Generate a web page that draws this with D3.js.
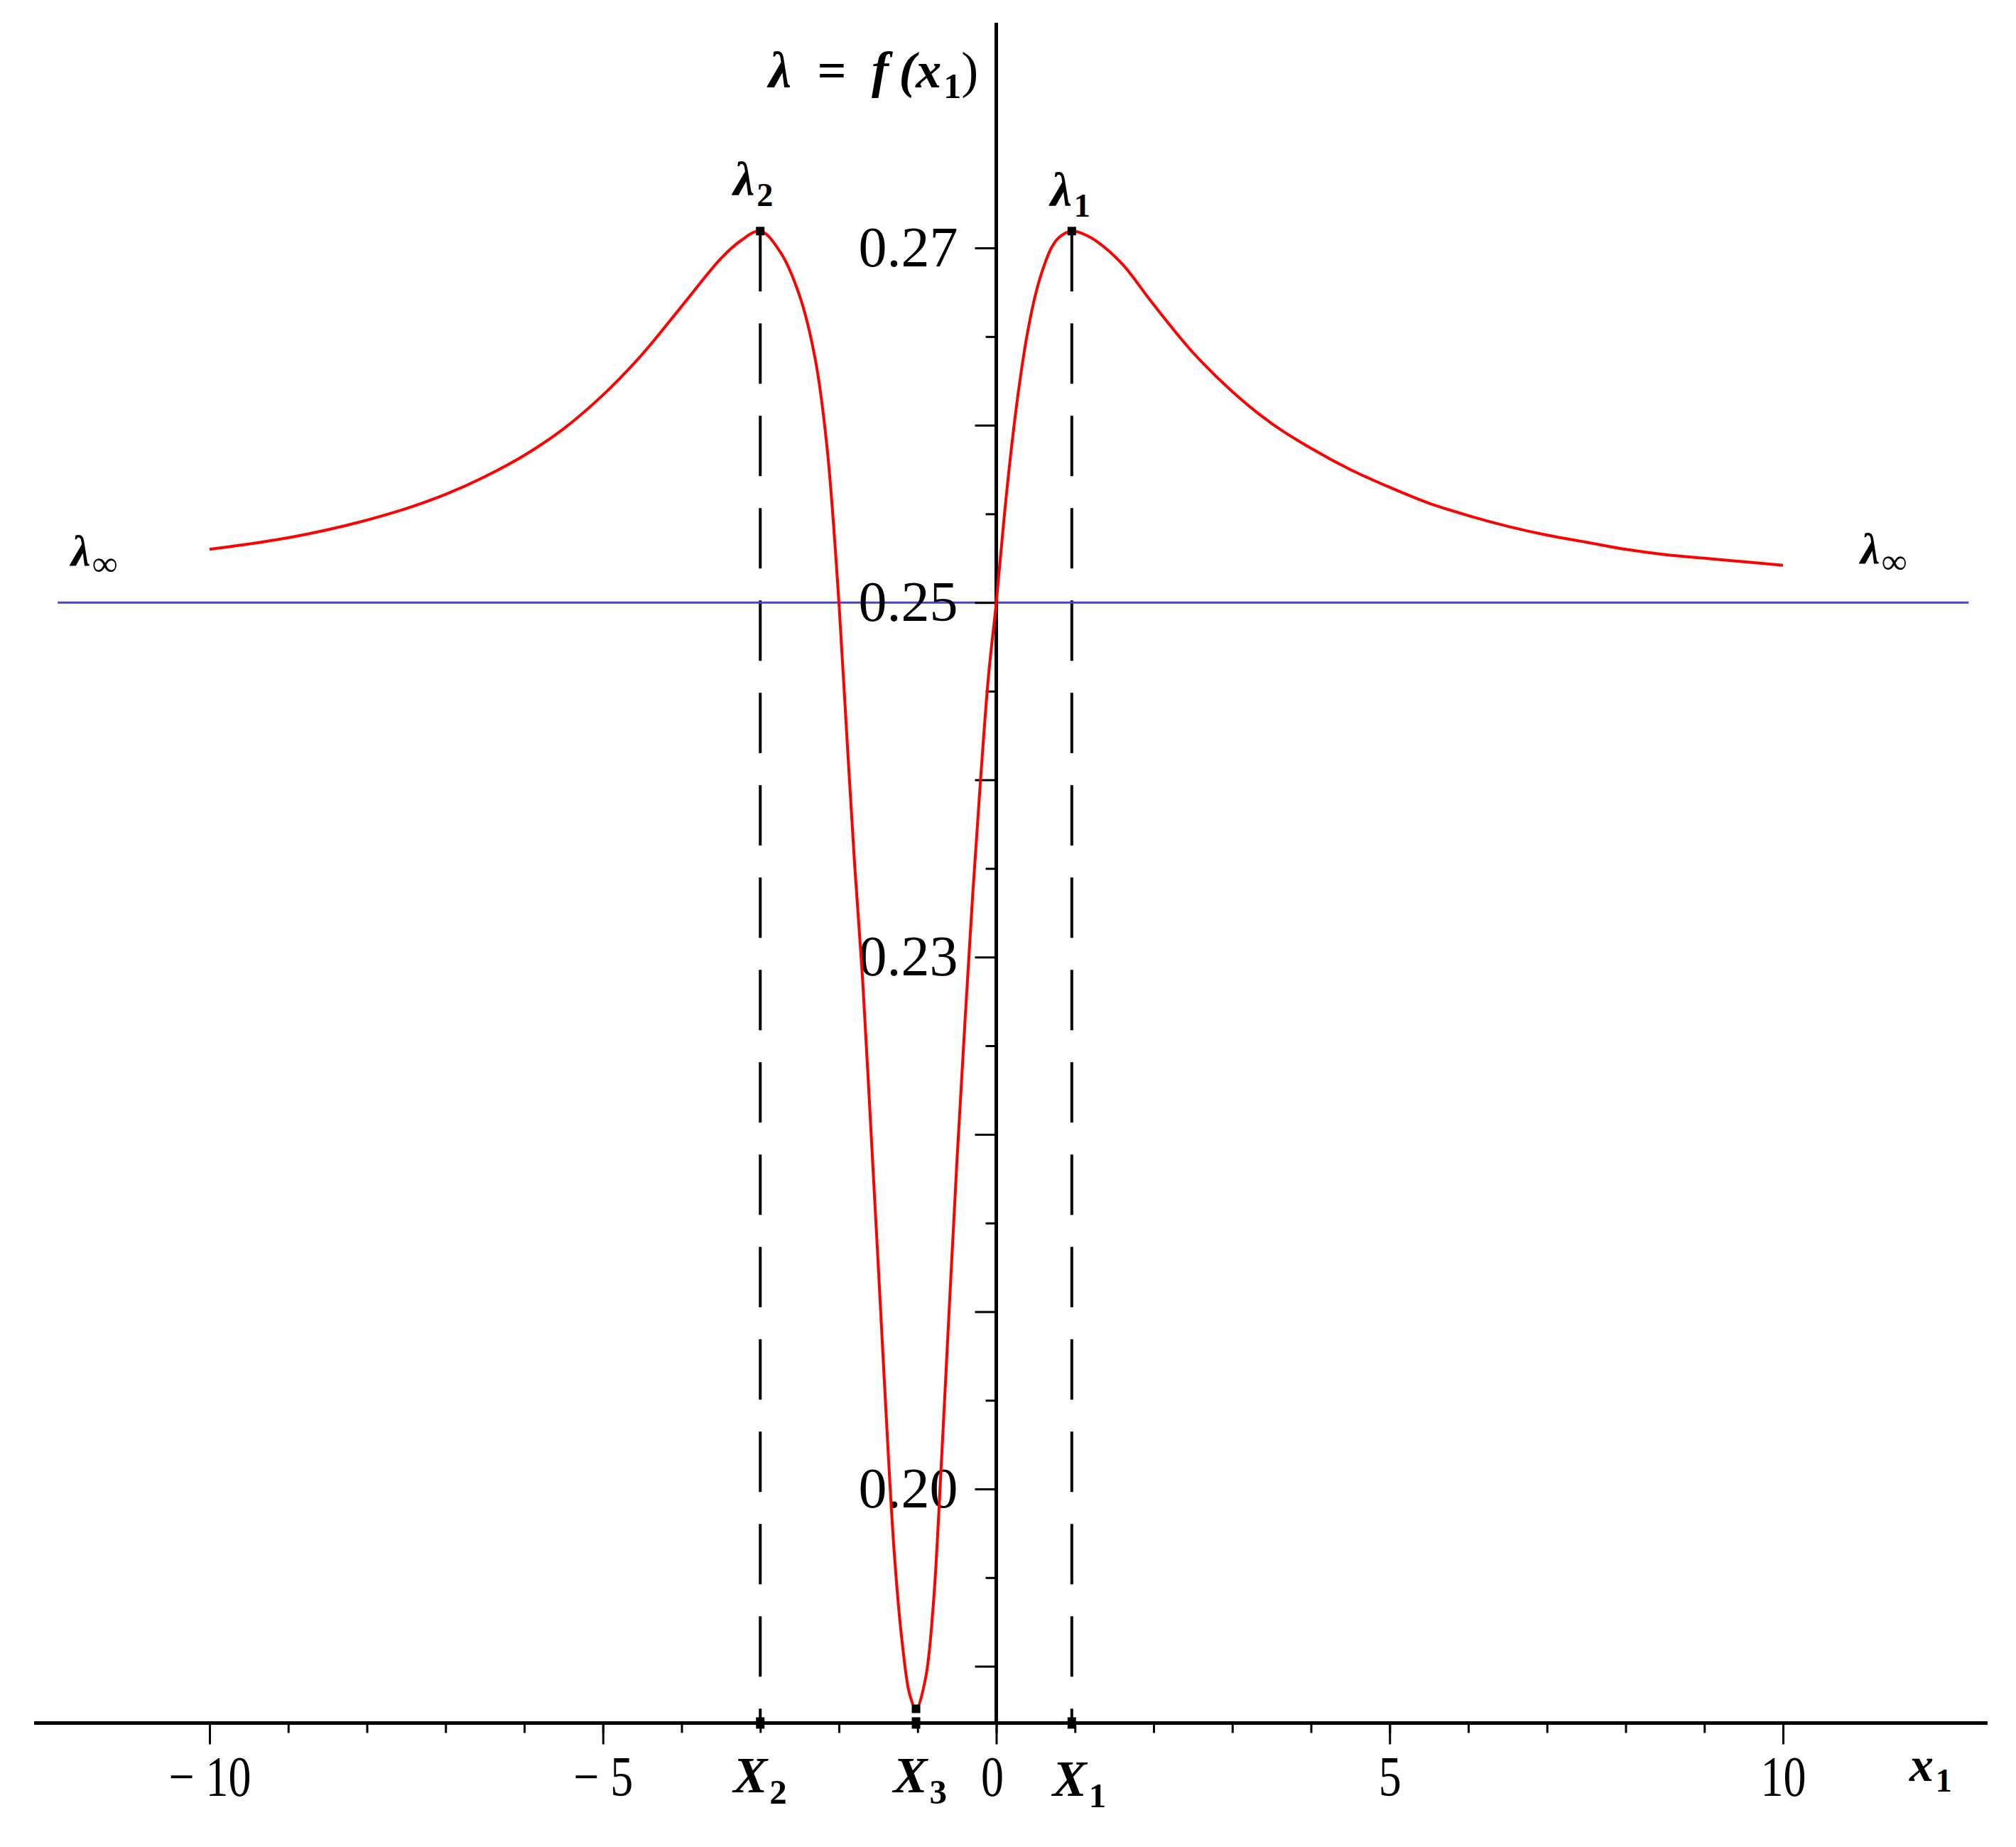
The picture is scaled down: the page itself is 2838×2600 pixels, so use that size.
<!DOCTYPE html>
<html>
<head>
<meta charset="utf-8">
<script src="https://cdn.jsdelivr.net/npm/d3@7/dist/d3.min.js"></script>
<style>
  body { margin: 0; background: #fff; }
  text { font-family: "Liberation Serif", "Times New Roman", serif; }
</style>
</head>
<body>
<div id="chart-area"></div>
<script>
// curve lambda = f(x1)
var x1Values = [-10, -9.5, -9, -8.5, -8, -7.5, -7, -6.5, -6, -5.5, -5, -4.5, -4, -3.5, -3.25, -3.0,
  -2.75, -2.5, -2.3, -2.15, -2.0, -1.9, -1.8, -1.7, -1.6, -1.5, -1.4, -1.3, -1.2, -1.1, -1.02,
  -0.9, -0.8, -0.7, -0.6, -0.5, -0.4, -0.3, -0.2, -0.1, 0,
  0.1, 0.2, 0.3, 0.4, 0.5, 0.6, 0.7, 0.8, 0.96, 1.1, 1.3, 1.6, 2.0, 2.5, 3.0, 3.5, 4.0, 4.5,
  5.0, 5.5, 6.0, 6.5, 7.0, 7.5, 8.0, 8.5, 9.0, 9.5, 10.0];
var lambdaValues = [0.2530, 0.2533, 0.25365, 0.2541, 0.25465, 0.2553, 0.2561, 0.2571, 0.2583, 0.2598,
  0.2617, 0.2640, 0.2667, 0.2694, 0.2704, 0.27095,
  0.2698, 0.2673, 0.2637, 0.2587, 0.2500, 0.2425, 0.2352, 0.2288, 0.2208, 0.2126, 0.2042, 0.1966,
  0.1915, 0.1884, 0.1876,
  0.1893, 0.1935, 0.2013, 0.2100, 0.2185, 0.2262, 0.2335, 0.2400, 0.2458, 0.2500,
  0.2548, 0.2590, 0.2625, 0.2653, 0.2674, 0.2689, 0.2700, 0.2706, 0.27095, 0.2708, 0.2703, 0.2691,
  0.2668, 0.2641, 0.2619, 0.2601, 0.2587, 0.2575,
  0.2565, 0.2556, 0.2549, 0.2543, 0.2538, 0.2534, 0.2530, 0.2527, 0.2525, 0.2523, 0.2521];

// marked points: two maxima and the minimum
var pointNames = ["2", "1", "3"];
var pointX = [-3.0, 0.96, -1.02];
var pointLambda = [0.27095, 0.27095, 0.1876];

var lambdaInf = 0.25;

// axis ticks and labels
var xMajorTicks = [-10, -5, 0, 5, 10];
var xMinorTicks = [-10, -9, -8, -7, -6, -5, -4, -3, -2, -1, 0, 1, 2, 3, 4, 5, 6, 7, 8, 9, 10];
var yMajorTicks = [0.19, 0.20, 0.21, 0.22, 0.23, 0.24, 0.25, 0.26, 0.27];
var yMinorTicks = [0.195, 0.205, 0.215, 0.225, 0.235, 0.245, 0.255, 0.265];
var yTickLabels = [0.27, 0.25, 0.23, 0.20];
var xAxisExtent = [-12.23, 12.6];
var yAxisExtent = [0.1868, 0.2827];
var refLineExtent = [-11.93, 12.36];

var width = 2838, height = 2600;

var svg = d3.select("#chart-area")
  .append("svg")
  .attr("width", width)
  .attr("height", height)
  .style("display", "block");

svg.append("rect").attr("width", width).attr("height", height).attr("fill", "#fff");

// scales
var x = d3.scaleLinear().domain([-10, 10]).range([295, 2510]);
var y = d3.scaleLinear().domain([0.20, 0.27]).range([2096, 349]);

var axisY = y(yAxisExtent[0]);

// dashed verticals from the maxima down to the x axis
[0, 1].forEach(function(i) {
  svg.append("line")
    .attr("x1", x(pointX[i])).attr("x2", x(pointX[i]))
    .attr("y1", y(pointLambda[i])).attr("y2", axisY)
    .attr("stroke", "#000")
    .attr("stroke-width", 4)
    .attr("stroke-dasharray", "85,45");
});

// lambda infinity line
svg.append("line")
  .attr("x1", x(refLineExtent[0])).attr("x2", x(refLineExtent[1]))
  .attr("y1", y(lambdaInf)).attr("y2", y(lambdaInf))
  .attr("stroke", "#4444cc")
  .attr("stroke-width", 3);

// x axis
svg.append("line")
  .attr("x1", x(xAxisExtent[0])).attr("x2", x(xAxisExtent[1]))
  .attr("y1", axisY).attr("y2", axisY)
  .attr("stroke", "#000").attr("stroke-width", 5);

var xMinorAxis = svg.append("g")
  .attr("transform", "translate(0," + axisY + ")")
  .call(d3.axisBottom(x).tickValues(xMinorTicks).tickSize(14).tickFormat(""));

var xMajorAxis = svg.append("g")
  .attr("transform", "translate(0," + axisY + ")")
  .call(d3.axisBottom(x).tickValues(xMajorTicks).tickSize(30).tickPadding(16)
    .tickFormat(function(d) { return d < 0 ? "\u2212 " + Math.abs(d) : d; }));

[xMinorAxis, xMajorAxis].forEach(function(g) {
  g.select(".domain").remove();
  g.selectAll(".tick line").attr("stroke", "#000").attr("stroke-width", 3);
});
xMajorAxis.selectAll(".tick text")
  .attr("fill", "#000")
  .attr("font-size", 80)
  .attr("font-family", "Liberation Serif")
  .attr("transform", function(d) { return d === 0 ? "translate(-6,0) scale(0.8,1)" : "scale(0.8,1)"; });

// y axis
svg.append("line")
  .attr("x1", x(0)).attr("x2", x(0))
  .attr("y1", y(yAxisExtent[1])).attr("y2", axisY)
  .attr("stroke", "#000").attr("stroke-width", 5);

var yMinorAxis = svg.append("g")
  .attr("transform", "translate(" + x(0) + ",0)")
  .call(d3.axisLeft(y).tickValues(yMinorTicks).tickSize(15).tickFormat(""));

var yMajorAxis = svg.append("g")
  .attr("transform", "translate(" + x(0) + ",0)")
  .call(d3.axisLeft(y).tickValues(yMajorTicks).tickSize(30).tickPadding(24)
    .tickFormat(function(d) {
      return yTickLabels.some(function(v) { return Math.abs(v - d) < 1e-9; }) ? d3.format(".2f")(d) : "";
    }));

[yMinorAxis, yMajorAxis].forEach(function(g) {
  g.select(".domain").remove();
  g.selectAll(".tick line").attr("stroke", "#000").attr("stroke-width", 3);
});
yMajorAxis.selectAll(".tick text")
  .attr("fill", "#000")
  .attr("font-size", 80)
  .attr("font-family", "Liberation Serif");

// the curve
var curveData = x1Values.map(function(v, i) { return [v, lambdaValues[i]]; });
var line = d3.line()
  .x(function(d) { return x(d[0]); })
  .y(function(d) { return y(d[1]); })
  .curve(d3.curveCatmullRom.alpha(0.5));

svg.append("path")
  .datum(curveData)
  .attr("d", line)
  .attr("fill", "none")
  .attr("stroke", "#ff0000")
  .attr("stroke-width", 4);

// point markers on the curve and on the x axis
pointX.forEach(function(px, i) {
  svg.append("rect")
    .attr("x", x(px) - 6).attr("y", y(pointLambda[i]) - 6)
    .attr("width", 12).attr("height", 12).attr("fill", "#000");
  svg.append("rect")
    .attr("x", x(px) - 6).attr("y", axisY - 8)
    .attr("width", 12).attr("height", 16).attr("fill", "#000");
});

// helper for italic labels with subscript
function subLabel(px, py, main, sub, size, subScale) {
  var t = svg.append("text")
    .attr("x", px).attr("y", py)
    .attr("font-size", size)
    .attr("font-weight", "bold")
    .attr("font-style", "italic")
    .attr("fill", "#000");
  t.append("tspan").text(main);
  t.append("tspan")
    .attr("font-size", size * (subScale || 0.68))
    .attr("font-style", "normal")
    .attr("dx", size * 0.04)
    .attr("dy", size * 0.22)
    .text(sub);
  return t;
}

// function label at the top of the y axis
var fLabel = svg.append("text")
  .attr("x", 1082).attr("y", 123)
  .attr("font-size", 72)
  .attr("font-weight", "bold")
  .attr("font-style", "italic")
  .attr("fill", "#000");
fLabel.append("tspan").text("\u03bb\u2002=\u2002f\u2009(x");
fLabel.append("tspan").attr("font-size", 50).attr("font-style", "normal").attr("dx", 3).attr("dy", 15).text("1");
fLabel.append("tspan").attr("dy", -15).attr("font-style", "normal").attr("font-weight", "normal").text(")");

// lambda labels above the maxima
subLabel(x(pointX[0]) - 38, 275, "\u03bb", pointNames[0], 68);
subLabel(x(pointX[1]) - 30, 290, "\u03bb", pointNames[1], 68);

// lambda infinity labels
subLabel(100, 796, "\u03bb", "\u221e", 62, 0.8);
subLabel(2619, 793, "\u03bb", "\u221e", 62, 0.8);

// X labels under the axis
subLabel(x(pointX[0]) - 38, 2523, "X", pointNames[0], 72);
subLabel(x(pointX[2]) - 32, 2523, "X", pointNames[2], 72);
subLabel(x(pointX[1]) - 27, 2528, "X", pointNames[1], 72);

// axis name
subLabel(2688, 2507, "x", "1", 68);
</script>
</body>
</html>
